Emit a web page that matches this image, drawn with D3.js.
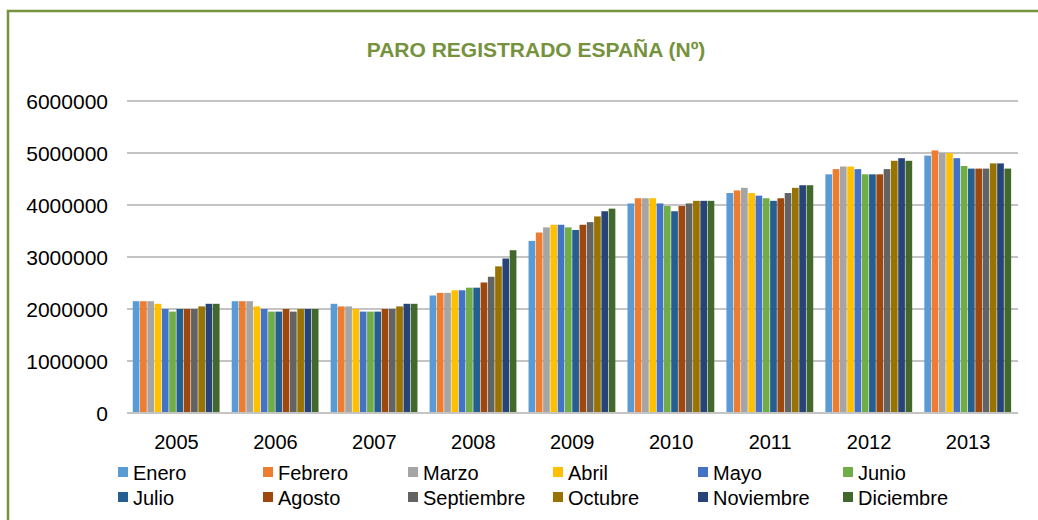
<!DOCTYPE html>
<html>
<head>
<meta charset="utf-8">
<script src="https://cdn.jsdelivr.net/npm/d3@7"></script>
<style>
  html, body { margin: 0; padding: 0; background: #fff; }
  svg { display: block; font-family: "Liberation Sans", Arial, sans-serif; }
</style>
</head>
<body>
<svg id="chart" width="1038" height="520"></svg>
<script>
const title = "PARO REGISTRADO ESPAÑA (Nº)";
const years = ["2005", "2006", "2007", "2008", "2009", "2010", "2011", "2012", "2013"];
const months = ["Enero", "Febrero", "Marzo", "Abril", "Mayo", "Junio",
                "Julio", "Agosto", "Septiembre", "Octubre", "Noviembre", "Diciembre"];
const monthColors = ["#5b9bd5", "#ed7d31", "#a5a5a5", "#ffc000", "#4472c4", "#70ad47",
                     "#255e91", "#9e480e", "#636363", "#997300", "#264478", "#43682b"];
const yTicks = [0, 1000000, 2000000, 3000000, 4000000, 5000000, 6000000];

// values per year, Enero..Diciembre
const v2005 = [2150000, 2150000, 2150000, 2100000, 2000000, 1950000, 2000000, 2000000, 2000000, 2050000, 2100000, 2100000];
const v2006 = [2150000, 2150000, 2150000, 2050000, 2000000, 1950000, 1950000, 2000000, 1950000, 2000000, 2000000, 2000000];
const v2007 = [2100000, 2050000, 2050000, 2000000, 1950000, 1950000, 1950000, 2000000, 2000000, 2050000, 2100000, 2100000];
const v2008 = [2260000, 2310000, 2310000, 2360000, 2360000, 2410000, 2410000, 2510000, 2620000, 2820000, 2970000, 3130000];
const v2009 = [3310000, 3470000, 3570000, 3620000, 3620000, 3570000, 3520000, 3620000, 3670000, 3780000, 3880000, 3930000];
const v2010 = [4030000, 4130000, 4130000, 4130000, 4030000, 3980000, 3880000, 3980000, 4030000, 4080000, 4080000, 4080000];
const v2011 = [4230000, 4280000, 4330000, 4230000, 4180000, 4130000, 4080000, 4130000, 4230000, 4330000, 4380000, 4380000];
const v2012 = [4590000, 4690000, 4740000, 4740000, 4690000, 4590000, 4590000, 4590000, 4690000, 4850000, 4900000, 4850000];
const v2013 = [4950000, 5050000, 5000000, 5000000, 4900000, 4750000, 4700000, 4700000, 4700000, 4800000, 4800000, 4700000];
const valuesByYear = [v2005, v2006, v2007, v2008, v2009, v2010, v2011, v2012, v2013];

const svg = d3.select("#chart");
const green = "#76923c";

// outer frame
svg.append("path")
  .attr("d", "M8,1040 L8,11 L1040,11")
  .attr("fill", "none").attr("stroke", green).attr("stroke-width", 2.5);

svg.append("text")
  .attr("x", 536).attr("y", 57)
  .attr("text-anchor", "middle")
  .attr("font-size", 21).attr("font-weight", "bold")
  .attr("fill", green)
  .text(title);

const x0 = d3.scaleBand().domain(years).range([127, 1017.5])
  .paddingInner(0.1166).paddingOuter(0.0583);
const x1 = d3.scaleBand().domain(months).range([0, x0.bandwidth()]).padding(0);
const y = d3.scaleLinear().domain([0, 6000000]).range([413, 101]);
const color = d3.scaleOrdinal().domain(months).range(monthColors);

// gridlines
svg.append("g").selectAll("line").data(yTicks).join("line")
  .attr("x1", 127).attr("x2", 1018)
  .attr("y1", d => y(d)).attr("y2", d => y(d))
  .attr("stroke", "#c4c4c4").attr("stroke-width", 2);

// y labels
svg.append("g").selectAll("text").data(yTicks).join("text")
  .attr("x", 108).attr("y", d => y(d))
  .attr("dy", "0.36em")
  .attr("text-anchor", "end")
  .attr("font-size", 21).attr("fill", "#000")
  .text(d => String(d));

// bars
const groups = svg.append("g").selectAll("g").data(years).join("g")
  .attr("transform", d => `translate(${x0(d)},0)`);
groups.selectAll("rect")
  .data((d, i) => months.map((m, j) => ({ m, v: valuesByYear[i][j] })))
  .join("rect")
  .attr("x", d => x1(d.m))
  .attr("width", x1.bandwidth() - 0.6)
  .attr("y", d => y(d.v))
  .attr("height", d => y(0) - y(d.v))
  .attr("fill", d => color(d.m));

// baseline
svg.append("line").attr("x1", 127).attr("x2", 1018).attr("y1", 413).attr("y2", 413)
  .attr("stroke", "#c4c4c4").attr("stroke-width", 2);

// x labels
svg.append("g").selectAll("text").data(years).join("text")
  .attr("x", d => x0(d) + x0.bandwidth() / 2).attr("y", 449)
  .attr("text-anchor", "middle")
  .attr("font-size", 20).attr("fill", "#000")
  .text(d => d);

// legend
const legend = svg.append("g").selectAll("g").data(months).join("g")
  .attr("transform", (d, i) => `translate(${118 + (i % 6) * 145},${i < 6 ? 467 : 492})`);
legend.append("rect").attr("width", 10).attr("height", 10).attr("fill", d => color(d));
legend.append("text").attr("x", 15).attr("y", 13)
  .attr("font-size", 20).attr("fill", "#000").text(d => d);
</script>
</body>
</html>
